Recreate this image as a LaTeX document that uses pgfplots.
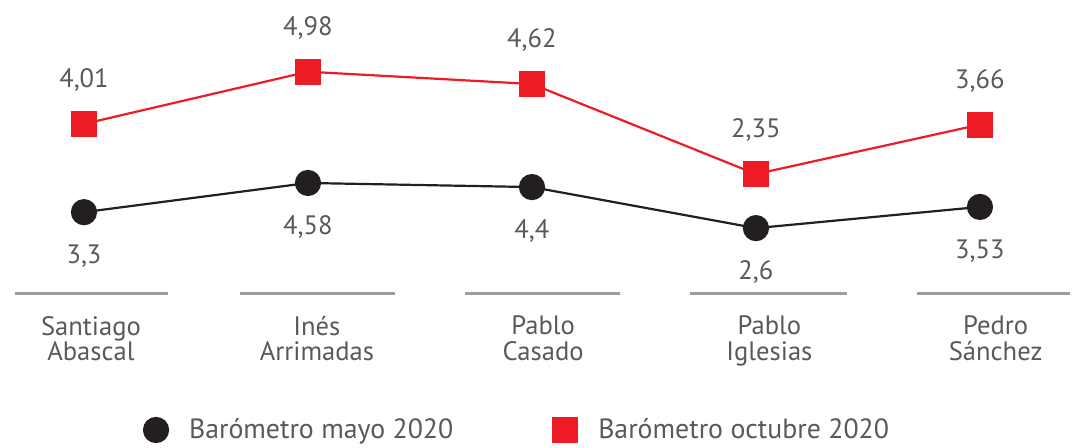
\documentclass[border=0pt]{standalone}
\usepackage{fontspec}
\setmainfont{PT Sans}
\usepackage{pgfplots}
\usepackage{pgfplotstable}
\pgfplotsset{compat=1.18}
\definecolor{octred}{HTML}{ED1C24}
\definecolor{mayblack}{HTML}{231F20}
\definecolor{txtgray}{HTML}{58595B}
\definecolor{rulegray}{HTML}{9D9D9D}

% x = candidate index, y = plotted height, lab = printed value
\pgfplotstableread{
x y lab
0 3.30 3,3
1 4.58 4,58
2 4.40 4,4
3 2.60 2,6
4 3.53 3,53
}\mayo
% the October points sit higher than their values on the mayo scale,
% so y holds the height as drawn in the chart
\pgfplotstableread{
x y lab
0 7.17 4,01
1 9.46 4,98
2 8.92 4,62
3 4.97 2,35
4 7.14 3,66
}\octubre

\begin{document}
\begin{tikzpicture}
\begin{axis}[
    at={(0pt,77pt)}, anchor=south west,
    scale only axis,
    width=536pt, height=147pt,
    xmin=-0.375, xmax=4.411,
    ymin=-0.289, ymax=12.605,
    axis line style={draw=none},
    ytick=\empty,
    xtick={0.031,1.04,2.05,3.06,4.07},
    xticklabels={{Santiago\\Abascal},{Inés\\Arrimadas},{Pablo\\Casado},{Pablo\\Iglesias},{Pedro\\Sánchez}},
    major tick length=0pt,
    x tick label style={align=center, font=\fontsize{13.3}{12.8}\selectfont,
        text=txtgray, yshift=-7.5pt},
    clip=false,
    point meta=explicit symbolic,
    legend columns=2,
    legend style={at={(0.134,-0.4626)}, anchor=west, draw=none, fill=none,
        inner sep=0pt, font=\fontsize{13.9}{13.9}\selectfont, text=txtgray,
        /tikz/every odd column/.append style={column sep=8.5pt},
        /tikz/every even column/.append style={column sep=48pt}},
    legend image code/.code={\draw[#1] plot coordinates {(0pt,0pt)};},
]
\draw[rulegray, line width=1.5pt] (axis cs:-0.308,-0.289) -- (axis cs:0.375,-0.289);
\draw[rulegray, line width=1.5pt] (axis cs:0.696,-0.289) -- (axis cs:1.388,-0.289);
\draw[rulegray, line width=1.5pt] (axis cs:1.701,-0.289) -- (axis cs:2.393,-0.289);
\draw[rulegray, line width=1.5pt] (axis cs:2.705,-0.289) -- (axis cs:3.406,-0.289);
\draw[rulegray, line width=1.5pt] (axis cs:3.719,-0.289) -- (axis cs:4.402,-0.289);

\addplot[mayblack, line width=1.1pt, mark=*, mark size=6pt,
    mark options={fill=mayblack, draw=mayblack},
    nodes near coords,
    every node near coord/.append style={anchor=center, yshift=-22pt,
        text=txtgray, font=\fontsize{13.3}{13.3}\selectfont}]
    table[x=x, y=y, meta=lab] {\mayo};
\addlegendentry{Barómetro mayo 2020}

\addplot[octred, line width=1.1pt, mark=square*, mark size=6pt,
    mark options={fill=octred, draw=octred},
    nodes near coords,
    every node near coord/.append style={anchor=center, yshift=22pt,
        text=txtgray, font=\fontsize{13.3}{13.3}\selectfont}]
    table[x=x, y=y, meta=lab] {\octubre};
\addlegendentry{Barómetro octubre 2020}
\end{axis}
\pgfresetboundingbox
\useasboundingbox (0,0) rectangle (536pt,224pt);
\end{tikzpicture}
\end{document}
